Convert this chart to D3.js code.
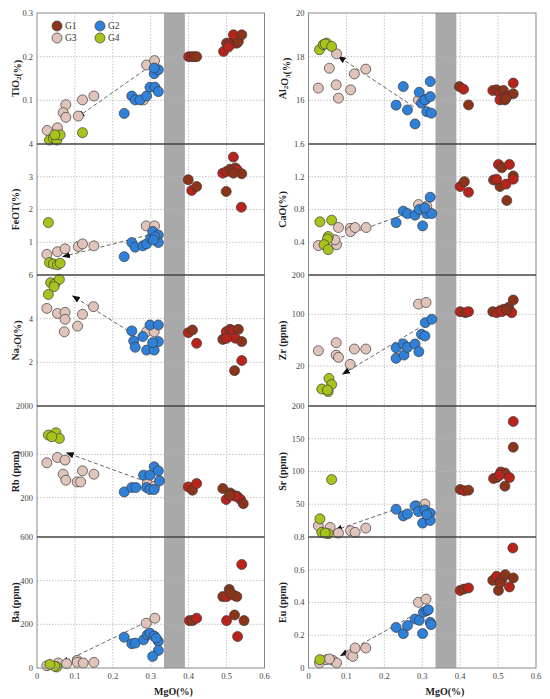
<!DOCTYPE html>
<html>
<head>
<meta charset="utf-8">
<script src="https://cdn.jsdelivr.net/npm/d3@7"></script>
<style>
  body { margin: 0; background: #fff; }
  svg { display: block; font-family: "Liberation Serif", "Times New Roman", serif; }
</style>
</head>
<body>
<div id="chart"></div>
<script>

// groups + legend
const groups = ["G1", "G2", "G3", "G4"];
const mgoTicks = [0, 0.1, 0.2, 0.3, 0.4, 0.5, 0.6];

// y tick labels, top to bottom
const tio2Ticks = [0.3, 0.2, 0.1, 0];
const feotTicks = [4, 3, 2, 1, 0];
const na2oTicks = [6, 4, 2, 0];
const rbTicks = [2000, 1000, 200, 0];
const baTicks = [600, 400, 200, 0];
const al2o3Ticks = [20, 18, 16, 14];
const caoTicks = [1.6, 1.2, 0.8, 0.4, 0];
const zrTicks = [200, 100, 20, 0];
const srTicks = [200, 150, 100, 50, 0];
const euTicks = [0.8, 0.6, 0.4, 0.2, 0];

// points: [group, MgO, value]
const tio2Pts = [
  ["G3",0.027,0.031],["G3",0.054,0.037],["G3",0.076,0.090],["G3",0.069,0.072],["G3",0.076,0.061],
  ["G3",0.109,0.064],["G3",0.120,0.101],["G3",0.150,0.110],["G3",0.289,0.181],["G3",0.310,0.191],["G3",0.281,0.101],
  ["G2",0.230,0.070],["G2",0.250,0.110],["G2",0.259,0.101],["G2",0.272,0.101],["G2",0.289,0.110],["G2",0.298,0.130],
  ["G2",0.311,0.130],["G2",0.309,0.161],["G2",0.320,0.170],["G2",0.309,0.174],["G2",0.320,0.120],
  ["G1",0.400,0.200],["G1",0.408,0.200],["G1",0.415,0.200],["G1",0.421,0.200],["G1",0.492,0.212],["G1",0.500,0.231],
  ["G1",0.509,0.231],["G1",0.518,0.231],["G1",0.527,0.231],["G1",0.531,0.235],["G1",0.518,0.250],["G1",0.540,0.250],["G1",0.505,0.222],
  ["G4",0.033,0.009],["G4",0.043,0.013],["G4",0.052,0.009],["G4",0.061,0.021],["G4",0.047,0.021],["G4",0.120,0.026]
];
const feotPts = [
  ["G3",0.026,0.63],["G3",0.054,0.71],["G3",0.074,0.80],["G3",0.109,0.87],["G3",0.120,0.95],["G3",0.150,0.89],
  ["G3",0.288,1.50],["G3",0.310,1.50],
  ["G2",0.230,0.56],["G2",0.250,0.99],["G2",0.259,0.85],["G2",0.279,0.89],["G2",0.289,0.95],["G2",0.300,1.12],
  ["G2",0.305,1.33],["G2",0.320,1.22],["G2",0.320,0.99],["G2",0.311,1.17],["G2",0.307,1.07],
  ["G1",0.399,2.91],["G1",0.408,2.58],["G1",0.421,2.70],["G1",0.490,3.11],["G1",0.499,2.55],["G1",0.500,3.16],
  ["G1",0.509,3.23],["G1",0.518,3.60],["G1",0.523,3.27],["G1",0.528,3.21],["G1",0.540,3.09],["G1",0.539,2.07],["G1",0.518,3.11],
  ["G4",0.030,1.60],["G4",0.033,0.38],["G4",0.043,0.34],["G4",0.054,0.31],["G4",0.061,0.36]
];
const na2oPts = [
  ["G3",0.026,4.47],["G3",0.054,4.24],["G3",0.074,4.29],["G3",0.074,3.97],["G3",0.120,4.20],["G3",0.107,3.66],
  ["G3",0.149,4.55],["G3",0.072,3.40],["G3",0.289,3.40],["G3",0.309,3.40],
  ["G2",0.250,3.44],["G2",0.255,2.98],["G2",0.259,2.69],["G2",0.279,3.18],["G2",0.289,2.56],["G2",0.298,3.71],
  ["G2",0.309,2.56],["G2",0.320,3.71],["G2",0.320,2.95],["G2",0.305,2.90],
  ["G1",0.399,3.36],["G1",0.410,3.48],["G1",0.421,2.87],["G1",0.490,3.05],["G1",0.499,3.40],["G1",0.509,3.51],
  ["G1",0.518,3.45],["G1",0.531,3.51],["G1",0.523,3.10],["G1",0.540,2.95],["G1",0.540,2.08],["G1",0.521,1.62],["G1",0.500,3.10],
  ["G4",0.030,5.11],["G4",0.036,5.65],["G4",0.047,5.59],["G4",0.059,5.80],["G4",0.045,5.47]
];
const rbPts = [
  ["G3",0.026,845],["G3",0.054,944],["G3",0.074,895],["G3",0.069,634],["G3",0.076,522],["G3",0.106,491],
  ["G3",0.115,491],["G3",0.120,696],["G3",0.150,634],["G3",0.291,473],["G3",0.310,411],
  ["G2",0.230,305],["G2",0.250,386],["G2",0.261,386],["G2",0.281,616],["G2",0.289,386],["G2",0.298,616],
  ["G2",0.309,771],["G2",0.320,696],["G2",0.323,510],["G2",0.298,349],["G2",0.309,349],
  ["G1",0.399,398],["G1",0.410,336],["G1",0.421,460],["G1",0.490,367],["G1",0.499,190],["G1",0.509,287],
  ["G1",0.518,243],["G1",0.528,225],["G1",0.537,190],["G1",0.544,169],["G1",0.523,225],["G1",0.508,243],
  ["G4",0.030,1400],["G4",0.050,1448],["G4",0.059,1331],["G4",0.039,1366]
];
const baPts = [
  ["G3",0.026,10.6],["G3",0.056,22.8],["G3",0.078,19.7],["G3",0.106,34.9],["G3",0.106,25.8],["G3",0.122,22.8],
  ["G3",0.150,25.8],["G3",0.288,205],["G3",0.311,228],
  ["G2",0.230,141],["G2",0.250,111],["G2",0.259,114],["G2",0.281,129],["G2",0.291,152],["G2",0.298,159],
  ["G2",0.309,147],["G2",0.320,122],["G2",0.320,80.5],["G2",0.305,53.2],["G2",0.314,137],
  ["G1",0.402,217],["G1",0.410,217],["G1",0.421,228],["G1",0.490,327],["G1",0.500,327],["G1",0.507,360],
  ["G1",0.518,334],["G1",0.527,327],["G1",0.500,217],["G1",0.521,243],["G1",0.529,144],["G1",0.546,217],
  ["G1",0.540,474],["G1",0.509,345],
  ["G4",0.052,4.6],["G4",0.047,8],["G4",0.034,16]
];
const al2o3Pts = [
  ["G3",0.074,18.13],["G3",0.055,17.47],["G3",0.026,16.56],["G3",0.073,16.71],["G3",0.079,16.10],["G3",0.111,16.48],
  ["G3",0.121,17.21],["G3",0.151,17.43],["G3",0.290,16.02],["G3",0.310,16.05],
  ["G2",0.250,16.63],["G2",0.231,15.78],["G2",0.261,15.56],["G2",0.281,14.92],["G2",0.292,16.37],["G2",0.298,15.87],
  ["G2",0.307,16.02],["G2",0.312,15.48],["G2",0.321,16.17],["G2",0.324,15.41],["G2",0.321,16.86],
  ["G1",0.398,16.63],["G1",0.409,16.51],["G1",0.422,15.79],["G1",0.486,16.45],["G1",0.496,16.48],["G1",0.505,16.33],
  ["G1",0.514,16.45],["G1",0.505,16.02],["G1",0.518,16.02],["G1",0.524,16.20],["G1",0.540,16.30],["G1",0.540,16.79],["G1",0.521,16.10],
  ["G4",0.029,18.32],["G4",0.039,18.55],["G4",0.048,18.62],["G4",0.044,18.58],["G4",0.061,18.47]
];
const caoPts = [
  ["G3",0.026,0.36],["G3",0.074,0.37],["G3",0.070,0.43],["G3",0.079,0.58],["G3",0.110,0.57],["G3",0.111,0.53],
  ["G3",0.123,0.58],["G3",0.152,0.58],["G3",0.290,0.86],["G3",0.312,0.84],
  ["G2",0.231,0.64],["G2",0.250,0.78],["G2",0.261,0.75],["G2",0.281,0.73],["G2",0.292,0.80],["G2",0.301,0.60],
  ["G2",0.312,0.75],["G2",0.325,0.75],["G2",0.321,0.95],["G2",0.307,0.82],
  ["G1",0.400,1.08],["G1",0.411,1.14],["G1",0.422,1.01],["G1",0.488,1.16],["G1",0.501,1.35],["G1",0.510,1.31],
  ["G1",0.530,1.35],["G1",0.505,1.08],["G1",0.521,1.11],["G1",0.540,1.21],["G1",0.540,1.17],["G1",0.523,0.91],["G1",0.496,1.17],
  ["G4",0.030,0.65],["G4",0.061,0.67],["G4",0.052,0.47],["G4",0.050,0.44],["G4",0.041,0.37],["G4",0.052,0.31]
];
const zrPts = [
  ["G3",0.026,43.7],["G3",0.073,56.1],["G3",0.073,37.0],["G3",0.079,33.4],["G3",0.110,22.6],["G3",0.121,46.3],
  ["G3",0.151,46.3],["G3",0.290,126],["G3",0.310,130],
  ["G2",0.231,48.4],["G2",0.231,31.9],["G2",0.250,54.1],["G2",0.252,37.0],["G2",0.261,48.9],["G2",0.281,54.1],
  ["G2",0.291,42.2],["G2",0.298,69.0],["G2",0.307,66.5],["G2",0.308,87.1],["G2",0.325,92.3],
  ["G1",0.400,106.8],["G1",0.414,104.2],["G1",0.422,106.8],["G1",0.486,106.8],["G1",0.496,104.2],["G1",0.505,109.3],
  ["G1",0.514,112.7],["G1",0.528,117.8],["G1",0.536,104.2],["G1",0.540,136.4],["G1",0.510,106.8],["G1",0.523,111.0],
  ["G4",0.054,13.8],["G4",0.061,10.8],["G4",0.035,8.5],["G4",0.052,7.2],["G4",0.050,8.0]
];
const srPts = [
  ["G3",0.026,17.1],["G3",0.057,14.6],["G3",0.079,6.0],["G3",0.111,9.6],["G3",0.123,7.1],["G3",0.151,13.6],
  ["G3",0.294,43.8],["G3",0.307,50.4],["G3",0.285,47.4],
  ["G2",0.231,42.3],["G2",0.250,32.2],["G2",0.261,35.3],["G2",0.281,47.4],["G2",0.290,38.8],["G2",0.301,21.2],
  ["G2",0.307,41.3],["G2",0.321,36.3],["G2",0.321,25.2],["G2",0.312,33.8],
  ["G1",0.400,72.5],["G1",0.411,70.5],["G1",0.422,71.5],["G1",0.488,89.2],["G1",0.496,90.7],["G1",0.507,99.2],
  ["G1",0.518,97.7],["G1",0.530,90.7],["G1",0.518,77.6],["G1",0.540,176.3],["G1",0.540,137.0],["G1",0.504,94.2],
  ["G4",0.030,27.7],["G4",0.061,87.7],["G4",0.035,7.1],["G4",0.052,5.0],["G4",0.044,6.0]
];
const euPts = [
  ["G3",0.029,0.031],["G3",0.047,0.051],["G3",0.064,0.047],["G3",0.074,0.031],["G3",0.111,0.081],["G3",0.117,0.071],
  ["G3",0.123,0.122],["G3",0.151,0.122],["G3",0.290,0.401],["G3",0.310,0.421],["G3",0.055,0.055],
  ["G2",0.231,0.248],["G2",0.250,0.210],["G2",0.261,0.259],["G2",0.281,0.299],["G2",0.292,0.291],["G2",0.303,0.340],
  ["G2",0.312,0.350],["G2",0.301,0.210],["G2",0.321,0.279],["G2",0.323,0.265],["G2",0.316,0.356],
  ["G1",0.400,0.474],["G1",0.410,0.482],["G1",0.422,0.489],["G1",0.486,0.535],["G1",0.496,0.560],["G1",0.501,0.474],
  ["G1",0.510,0.539],["G1",0.519,0.570],["G1",0.530,0.495],["G1",0.540,0.550],["G1",0.539,0.733],["G1",0.505,0.519],
  ["G4",0.030,0.051]
];

// trend arrows: [fromMgO, fromValue, toMgO, toValue]
const tio2Arrow = [0.298, 0.178, 0.106, 0.061];
const feotArrow = [0.294, 1.22, 0.068, 0.56];
const na2oArrow = [0.241, 3.44, 0.094, 5.04];
const rbArrow = [0.289, 491, 0.078, 1034];
const baArrow = [0.272, 197, 0.065, 22.8];
const al2o3Arrow = [0.277, 15.71, 0.079, 18.01];
const caoArrow = [0.241, 0.72, 0.061, 0.42];
const zrArrow = [0.290, 78.3, 0.090, 16];
const srArrow = [0.224, 41.3, 0.070, 10.1];
const euArrow = [0.268, 0.311, 0.085, 0.075];

// grey band on MgO
const bandRange = [0.335, 0.39];

// --------------------------------------
//  Canvas
// --------------------------------------

const width = 550;
const height = 699;
const rowEdges = [13, 144, 275, 406, 537, 668];
const colEdges = [[37, 264.5], [308.5, 536]];

const colors = {G1: "#b8231c", G2: "#2f80d8", G3: "#e0c3b9", G4: "#a8c41c"};
const g1Alt = "#8c3419";

const svg = d3.select("#chart")
  .append("svg")
    .attr("width", width)
    .attr("height", height);

svg.append("defs").append("marker")
    .attr("id", "arrowhead")
    .attr("viewBox", "0 0 10 8")
    .attr("refX", 9)
    .attr("refY", 4)
    .attr("markerWidth", 8)
    .attr("markerHeight", 6.5)
    .attr("markerUnits", "userSpaceOnUse")
    .attr("orient", "auto")
  .append("path")
    .attr("d", "M0,0 L10,4 L0,8 Z")
    .attr("fill", "#111");

// label: [text, subscript] pieces
const panels = [
  {col: 0, row: 0, data: tio2Pts, ticks: tio2Ticks, arrow: tio2Arrow, label: [["TiO"], ["2", true], ["(%)"]]},
  {col: 0, row: 1, data: feotPts, ticks: feotTicks, arrow: feotArrow, label: [["FeOT(%)"]]},
  {col: 0, row: 2, data: na2oPts, ticks: na2oTicks, arrow: na2oArrow, label: [["Na"], ["2", true], ["O(%)"]]},
  {col: 0, row: 3, data: rbPts, ticks: rbTicks, arrow: rbArrow, label: [["Rb (ppm)"]], frac: [0, 0.301, 0.63, 1]},
  {col: 0, row: 4, data: baPts, ticks: baTicks, arrow: baArrow, label: [["Ba (ppm)"]]},
  {col: 1, row: 0, data: al2o3Pts, ticks: al2o3Ticks, arrow: al2o3Arrow, label: [["Al"], ["2", true], ["O"], ["3", true], ["(%)"]]},
  {col: 1, row: 1, data: caoPts, ticks: caoTicks, arrow: caoArrow, label: [["CaO(%)"]]},
  {col: 1, row: 2, data: zrPts, ticks: zrTicks, arrow: zrArrow, label: [["Zr (ppm)"]], frac: [0, 0.305, 0.70, 1]},
  {col: 1, row: 3, data: srPts, ticks: srTicks, arrow: srArrow, label: [["Sr (ppm)"]]},
  {col: 1, row: 4, data: euPts, ticks: euTicks, arrow: euArrow, label: [["Eu (ppm)"]]}
];

const drawOrder = ["G3", "G2", "G1", "G4"];

// column frames, grid and band first
colEdges.forEach(([x0, x1]) => {
  const x = d3.scaleLinear().domain([0, 0.6]).range([x0, x1]);
  const g = svg.append("g");

  g.selectAll(".vgrid")
    .data(mgoTicks.slice(1, -1))
    .join("line")
      .attr("x1", d => x(d)).attr("x2", d => x(d))
      .attr("y1", rowEdges[0]).attr("y2", rowEdges[5])
      .attr("stroke", "#b5b5b5")
      .attr("stroke-width", 0.8)
      .attr("stroke-dasharray", "1.5,1.5");

  g.append("rect")
    .attr("x", x(bandRange[0]))
    .attr("y", rowEdges[0])
    .attr("width", x(bandRange[1]) - x(bandRange[0]))
    .attr("height", rowEdges[5] - rowEdges[0])
    .attr("fill", "#a9a9a9");

  g.selectAll(".xlab")
    .data(mgoTicks)
    .join("text")
      .attr("x", d => x(d))
      .attr("y", 679)
      .attr("text-anchor", "middle")
      .attr("font-size", 8.5)
      .attr("fill", "#444")
      .text(d => d);

  g.append("text")
    .attr("x", x(0.36))
    .attr("y", 695)
    .attr("text-anchor", "middle")
    .attr("font-size", 10)
    .attr("font-weight", "bold")
    .attr("fill", "#222")
    .text("MgO(%)");
});

panels.forEach(p => {
  const [x0, x1] = colEdges[p.col];
  const top = rowEdges[p.row];
  const bottom = rowEdges[p.row + 1];
  const x = d3.scaleLinear().domain([0, 0.6]).range([x0, x1]);
  const vals = p.ticks.slice().reverse();
  const frac = p.frac || vals.map(v => (v - vals[0]) / (vals[vals.length - 1] - vals[0]));
  const y = d3.scaleLinear()
    .domain(vals)
    .range(frac.map(f => bottom - f * (bottom - top)));

  const g = svg.append("g");

  // horizontal grid
  g.selectAll(".hgrid")
    .data(p.ticks.slice(1, -1))
    .join("line")
      .attr("x1", x0).attr("x2", x1)
      .attr("y1", d => y(d)).attr("y2", d => y(d))
      .attr("stroke", "#b5b5b5")
      .attr("stroke-width", 0.8)
      .attr("stroke-dasharray", "1.5,1.5");

  // tick labels (bottom one hidden by the panel below, except last row)
  const shown = p.row === 4 ? p.ticks : p.ticks.slice(0, -1);
  g.selectAll(".ylab")
    .data(shown)
    .join("text")
      .attr("x", x0 - 4)
      .attr("y", d => y(d))
      .attr("dy", "0.35em")
      .attr("text-anchor", "end")
      .attr("font-size", 8.5)
      .attr("fill", "#444")
      .text(d => d);

  // y title
  const lx = p.col === 0 ? 15 : 282;
  const ly = (top + bottom) / 2;
  const t = g.append("text")
    .attr("transform", `translate(${lx},${ly}) rotate(-90)`)
    .attr("text-anchor", "middle")
    .attr("dy", "0.35em")
    .attr("font-size", 10)
    .attr("font-weight", "bold")
    .attr("fill", "#222");
  p.label.forEach(([s, sub]) => {
    t.append("tspan")
      .attr("font-size", sub ? 7 : 10)
      .attr("dy", sub ? 2 : null)
      .text(s);
    if (sub) t.append("tspan").attr("dy", -2).text("");
  });

  // arrow
  const a = p.arrow;
  g.append("line")
    .attr("x1", x(a[0])).attr("y1", y(a[1]))
    .attr("x2", x(a[2])).attr("y2", y(a[3]))
    .attr("stroke", "#555")
    .attr("stroke-width", 0.9)
    .attr("stroke-dasharray", "4,2.5")
    .attr("marker-end", "url(#arrowhead)");

  // points
  const sorted = p.data.slice().sort((a, b) => drawOrder.indexOf(a[0]) - drawOrder.indexOf(b[0]));
  g.selectAll(".pt")
    .data(sorted)
    .join("circle")
      .attr("cx", d => x(d[1]))
      .attr("cy", d => y(d[2]))
      .attr("r", 5)
      .attr("fill", (d, i) => d[0] === "G1" && i % 2 ? g1Alt : colors[d[0]])
      .attr("stroke", "#3a3a3a")
      .attr("stroke-width", 0.7);
});

// frames and separators on top
colEdges.forEach(([x0, x1]) => {
  svg.append("rect")
    .attr("x", x0).attr("y", rowEdges[0])
    .attr("width", x1 - x0).attr("height", rowEdges[5] - rowEdges[0])
    .attr("fill", "none")
    .attr("stroke", "#888")
    .attr("stroke-width", 1);

  svg.selectAll(null)
    .data(rowEdges.slice(1, -1))
    .join("line")
      .attr("x1", x0).attr("x2", x1)
      .attr("y1", d => d).attr("y2", d => d)
      .attr("stroke", "#444")
      .attr("stroke-width", 1.3);
});

// legend
const legend = svg.append("g");
groups.forEach((grp, i) => {
  const lx = 57 + (i % 2) * 43;
  const ly = 26 + Math.floor(i / 2) * 12;
  legend.append("circle")
    .attr("cx", lx).attr("cy", ly).attr("r", 5)
    .attr("fill", grp === "G1" ? g1Alt : colors[grp])
    .attr("stroke", "#3a3a3a")
    .attr("stroke-width", 0.7);
  legend.append("text")
    .attr("x", lx + 8).attr("y", ly)
    .attr("dy", "0.35em")
    .attr("font-size", 9.5)
    .attr("fill", "#333")
    .text(grp);
});

</script>
</body>
</html>
